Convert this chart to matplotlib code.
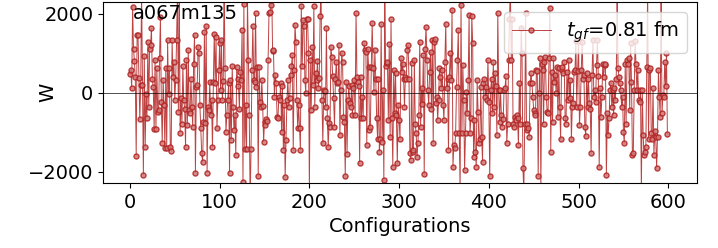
import numpy as np
import matplotlib
matplotlib.use("Agg")
import matplotlib.pyplot as plt

# W per configuration in chunks from left to right
w_a = [470, 570, 110, 2180, 1120, 800, 390, -1600, 1470, 1470, 380, -670, 190, 2600, 210,
       -2080, 930, -1380, -30, -630, 1290, -350, 1120, 1210, 1630, 350, 140, -920, 840, -920,
       620, -480, -440, 890, 1910, -230, -1260, 320, -310, -1410, 620, -1410, 1330, -20]
w_b = [620, -1370, -1470, 1330, 410, 780, -170, 320, 1330, 2600, -480, 2500, -1010, -140, -780,
       670, -190, -400, -1370, 830, -820, 1080, -440, -510, 360, -350, -860, 740, 1460, -2020,
       150, 190, 1160, 1000, -310, -900, -1530, -1750, -730, 1540, -760, 1690, -2020, -350, -440,
       280, -570, -190, -1370, 270, 1500, 250, 1420, -900, -170, 570, 1250, 70, 1350, -190,
       300, 2700, 620, -990, -570, -170, 240, -2040, 320, -1200, 670, -370]
w_c = [-940, -570, -1580, 660, 360, 170, -420, 530, 320, 1600, -2250, 2250, -1430, -310, -1430,
       2400, 830, -570, -2700, -1430, 590, 1690, 320, 280, 2010, 140, 660, -2110, 660, -230,
       -350, 320, -340, -1240, -730, -820, -670, -710, 840, 2010, 2050, 2230, 2600, 1060, 1080,
       -100, 450, 250, -610, -630, -100, -190, 240, -990, 170, -1450, -310, -2140, -1200, -170,
       320, -350, -140, 450, 670, 950, -1450, 570, 1710, 1290, -190, -900]
w_d = [-310, -900, -1450, 2190, 670, 1840, 1690, 320, 0, 1880, 1860, 1010, -2500, 830, -440,
       1150, 190, 2190, -350, 510, 320, 810, 110, 370, 1940, 2700, -170, -1280, 70, 50,
       -370, 1630, -650, -1370, -760, -860, 1160, 910, 420, -140, -860, 340, 780, 250, 280,
       1210, -1070, 70, 1000, 780, -610, -730, -2110, 280, -1550, -190, 170, -250, -370, 190,
       -570, 110, 320, -570, 2020, 410, 280, 170, -1790, 390, -650, -100]
w_e = [-650, 1270, 1080, 1040, -1320, 1100, 660, -940, -860, 660, 1770, 620, 30, 1080, 340,
       -650, -1160, 360, -1490, -1160, 1740, -1240, 70, -2210, 2600, 670, 760, 780, -690, 1230,
       -1130, 1860, -650, -1870, 570, -520, 490, -570, -1790, -310, -690, -1180, 870, 530, 740,
       360, -350, 410, 360, 1080, 1210, 360, -1520, -1690, 760, -1490, -1450, 840, -780, -1030,
       -1620, -1280, -570, 1290, -860, 110, -290, 950, -2060, 1120, 1670, 830, 70]
w_f = [-310, 530, 1040, -400, 1330, -1280, 1290, 1370, -270, -100, -690, -170, 620, 390, 110,
       570, -310, -690, 780, 1750, 110, 360, -1450, 410, 1000, 320, 2110, -1870, -1320, -1410,
       -1010, 150, 840, 1590, -1030, -2500, 2220, -1030, 700, -170, -1960, -1030, 30, -520, 320,
       1980, -1030, -650, 1950, 1270, -1620, -690, -1490, -1870, 320, -480, -1280, -1160, 140, -1110,
       -1750, 240, 360, -100, 150, -190, 830, -230, -2120, 70, 360, -520]
w_g = [780, -350, 490, 170, -1070, 2020, 70, -730, 80, -570, -860, -670, 80, 110, 420,
       -1280, -780, 830, 1880, 2600, 840, 1880, -780, -860, -610, -690, -570, -650, -1320, 240,
       -780, 1630, 1000, -1910, -2500, -780, 2020, -940, -780, -900, -1110, 240, 490, 250, -100,
       -440, -520, -570, 570, 560, -2120, 0, 870, -2500, 740, 570, -790, 780, 910, -100,
       -480, -510, 870, 2160, -1490, 530, -730, 890, 280, 450, 0, 660]
w_h = [-610, 620, -350, -1180, 570, 660, 510, 780, -650, -780, 530, -190, 830, -140, 320,
       -1180, -350, -270, 530, 570, 1300, -350, 560, 1320, -820, -350, 570, 1280, 360, 450,
       -860, -1100, 510, -350, 360, -270, -400, -1530, 450, 1350, -100, 70, -230, 700, 1330,
       420, -1870, 110, -610, -100, 740, 410, 700, 740, -2080, -520, -1070, -650, 70, 240,
       -350, 70, -570, 110, -190, 360, 2500, 620, 410, 250, 70, -350, -100]
w_i = [-990, -1280, 740, -780, 830, 740, 870, -440, 1250, 280, -1580, -1530, 70, 1300, 740,
       70, 570, -190, -230, 70, -2500, 70, -1070, -1580, -1490, -1370, 660, 2600, -1160, 570,
       620, -1010, -1160, 110, -1580, -960, -1110, -1910, -1110, 590, -100, -610, 2600, -520, -60,
       -100, 780, 170, 1000, -1050]

w = np.concatenate([w_a, w_b, w_c, w_d, w_e, w_f, w_g, w_h, w_i])
conf = np.arange(len(w))

plt.rcParams["font.size"] = 14

fig = plt.figure(figsize=(7.18, 2.48), dpi=100)
ax = fig.add_axes([103 / 718, 65 / 248, 594 / 718, 181 / 248])

ax.plot(conf, w, marker="o", ms=3.6, lw=0.7, color="#b22222", alpha=0.85,
        mfc="#d07878", mec="#b22222", mew=1.0, label=r"$t_{gf}$=0.81 fm")
ax.axhline(0, color="k", lw=0.6, alpha=0.8)

ax.set_xlim(-30, 632)
ax.set_ylim(-2285, 2300)
ax.set_xlabel("Configurations", fontsize=14)
ax.set_ylabel("W", fontsize=14)
ax.yaxis.set_label_coords(-0.077, 0.5)
ax.tick_params(labelsize=14)

ax.text(0.05, 0.99, "a067m135", transform=ax.transAxes, fontsize=14, va="top")
ax.legend(loc="upper right", fontsize=14)

fig.savefig("out.png", dpi=100)
